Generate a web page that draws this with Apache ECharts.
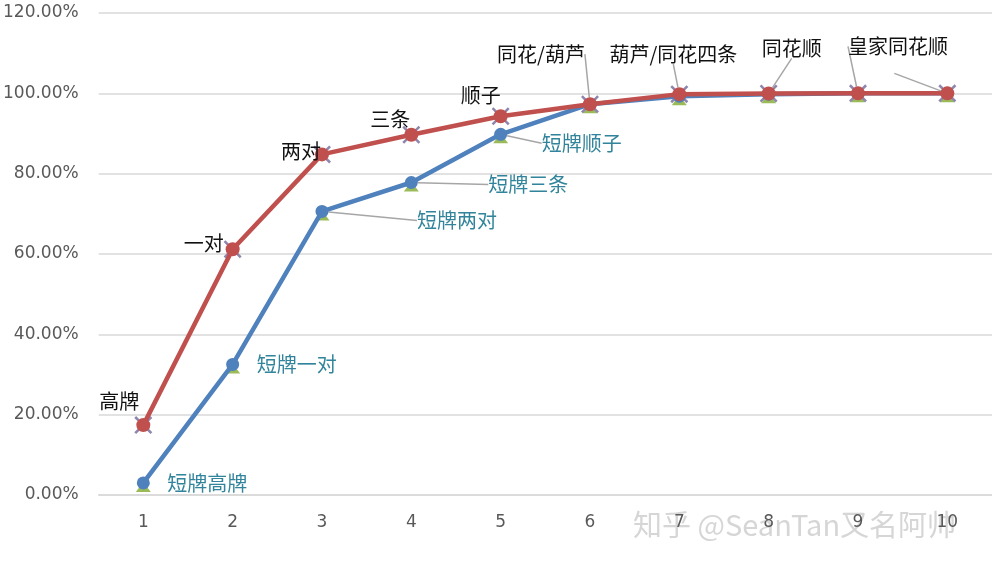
<!DOCTYPE html>
<html>
<head>
<meta charset="utf-8">
<script src="https://cdn.jsdelivr.net/npm/echarts@6/dist/echarts.min.js"></script>
<style>
    html, body {margin: 0; padding: 0; background: #fff;}
    #chart {width: 992px; height: 567px;}
</style>
</head>
<body>
<div id="chart"></div>
<script>
// 横轴：牌型序号
const categories = ['1', '2', '3', '4', '5', '6', '7', '8', '9', '10'];
// 普通德州累计概率
const normalValues = [0.174, 0.612, 0.848, 0.897, 0.943, 0.973, 0.998, 0.9997, 0.99999, 1.0];
// 短牌累计概率
const shortValues = [0.030, 0.325, 0.706, 0.778, 0.898, 0.973, 0.993, 0.998, 0.9999, 1.0];
// 标签文字
const normalLabels = ['高牌', '一对', '两对', '三条', '顺子', '同花/葫芦', '葫芦/同花四条', '同花顺', '皇家同花顺', ' '];
const shortLabels = ['短牌高牌', '短牌一对', '短牌两对', '短牌三条', '短牌顺子', '', '', '', '', ''];

// 标签偏移 [dx, dy, 是否显示引导线]
const normalShift = [[-24, -24, 0], [-29, -6, 0], [-21, -3, 0], [-21, -15, 0], [-20, -21, 0],
    [-49, -50, 1], [-6, -40, 1], [23, -45, 1], [40, -47, 1], [-53, -30, 1]];
const shortShift = [[64, 0, 0], [64, 0, 0], [135, 9, 1], [117, 2, 1], [81, 9, 1],
    [0, 0, 0], [0, 0, 0], [0, 0, 0], [0, 0, 0], [0, 0, 0]];

let myChart = echarts.init(document.getElementById('chart'));

function withLabels(values, labels, shift){
    return values.map((v, i) => ({
        value: v,
        label: {show: labels[i] !== ''},
        labelLine: {show: !!shift[i][2]}
    }));
}

const crossPath = 'path://M1,0 L5,4 L9,0 L10,1 L6,5 L10,9 L9,10 L5,6 L1,10 L0,9 L4,5 L0,1 Z';

let option = {
    animation: false,
    grid: {     //设置图表位置
        left: 97.5,
        top: 13,
        width: 899,
        height: 482
    },
    xAxis: {
        type: 'category',
        data: categories,
        axisTick: {show: false},
        axisLine: {
            lineStyle: {color: '#D9D9D9', width: 1.5}
        },
        axisLabel: {
            color: '#595959',
            fontSize: 17,
            fontFamily: 'DejaVu Sans',
            margin: 19
        }
    },
    yAxis: {
        type: 'value',
        min: 0,
        max: 1.2,
        interval: 0.2,
        axisLine: {show: false},
        axisTick: {show: false},
        splitLine: {
            lineStyle: {color: '#D9D9D9', width: 1.5}
        },
        axisLabel: {
            color: '#595959',
            fontSize: 17,
            fontFamily: 'DejaVu Sans',
            margin: 20,
            formatter: v => (v * 100).toFixed(2) + '%'
        }
    },
    graphic: [
        {
            type: 'text',
            left: 633,
            top: 510,
            silent: true,
            style: {
                text: '知乎 @SeanTan又名阿帅',
                fill: '#d6d6d6',
                font: '29px "Noto Sans CJK SC"'
            }
        }
    ],
    series: [
        {
            // 绿色三角
            type: 'line',
            data: shortValues,
            symbol: 'triangle',
            symbolSize: [15, 10],
            symbolOffset: [0, 4],
            lineStyle: {opacity: 0},
            itemStyle: {color: '#9BBB59'},
            z: 1
        },
        {
            // 灰紫色叉
            type: 'line',
            data: normalValues,
            symbol: crossPath,
            symbolSize: 18,
            lineStyle: {opacity: 0},
            itemStyle: {color: '#8E86AE'},
            z: 1
        },
        {
            type: 'line',
            data: withLabels(shortValues, shortLabels, shortShift),
            symbol: 'circle',
            symbolSize: 13,
            showAllSymbol: true,
            lineStyle: {color: '#4F81BD', width: 4.5},
            itemStyle: {color: '#4F81BD'},
            label: {
                position: 'inside',
                color: '#31849B',
                fontSize: 20,
                fontFamily: 'Noto Sans CJK SC',
                formatter: p => shortLabels[p.dataIndex]
            },
            labelLine: {
                lineStyle: {color: '#A6A6A6', width: 1.5}
            },
            labelLayout: p => ({
                dx: shortShift[p.dataIndex][0],
                dy: shortShift[p.dataIndex][1]
            }),
            z: 2
        },
        {
            type: 'line',
            data: withLabels(normalValues, normalLabels, normalShift),
            symbol: 'circle',
            symbolSize: 14,
            showAllSymbol: true,
            lineStyle: {color: '#C0504D', width: 4.5},
            itemStyle: {color: '#C0504D'},
            label: {
                position: 'inside',
                color: '#111',
                fontSize: 20,
                fontFamily: 'Noto Sans CJK SC',
                formatter: p => normalLabels[p.dataIndex]
            },
            labelLine: {
                lineStyle: {color: '#A6A6A6', width: 1.5}
            },
            labelLayout: p => ({
                dx: normalShift[p.dataIndex][0],
                dy: normalShift[p.dataIndex][1]
            }),
            z: 3
        }
    ]
};

myChart.setOption(option);
</script>
</body>
</html>
